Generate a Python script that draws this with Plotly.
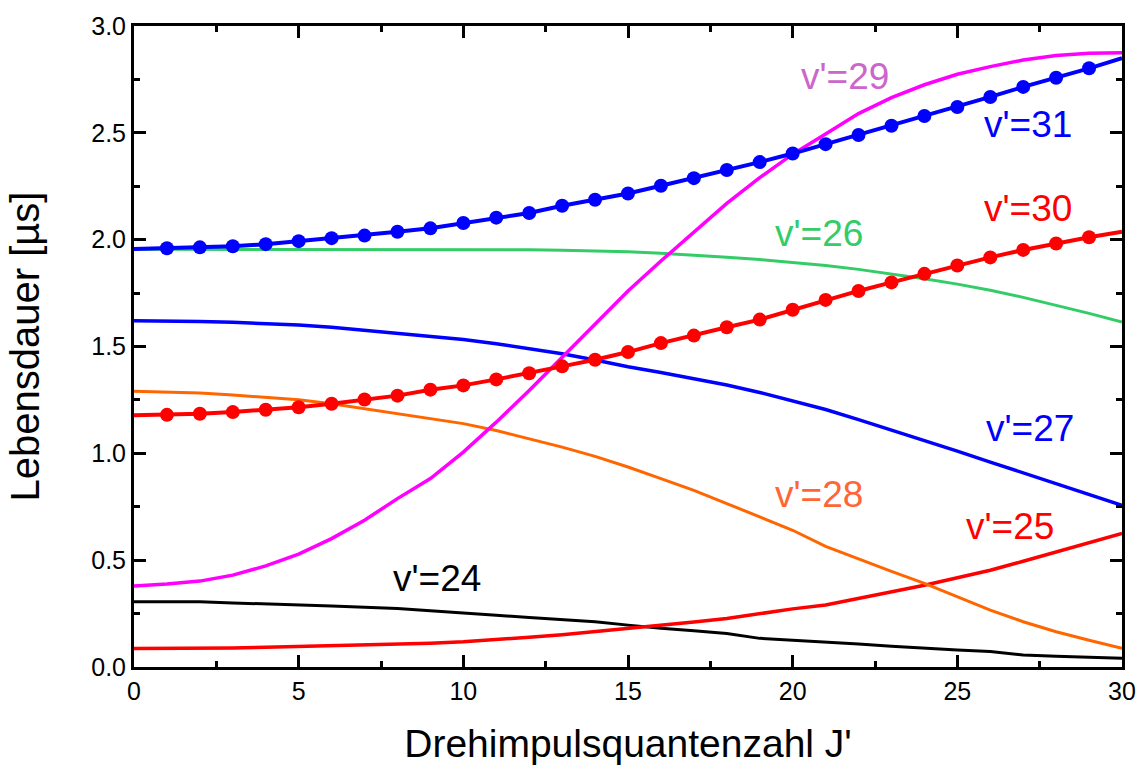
import plotly.graph_objects as go

J = list(range(31))

v31 = [1.956, 1.960, 1.964, 1.969, 1.979, 1.993, 2.007, 2.019, 2.037, 2.053, 2.078, 2.103, 2.125, 2.159, 2.187, 2.216,
       2.252, 2.288, 2.326, 2.363, 2.403, 2.447, 2.490, 2.533, 2.579, 2.621, 2.668, 2.715, 2.758, 2.802, 2.849]
v30 = [1.178, 1.180, 1.185, 1.193, 1.204, 1.216, 1.232, 1.252, 1.270, 1.298, 1.318, 1.346, 1.375, 1.407, 1.438, 1.474,
       1.516, 1.551, 1.590, 1.626, 1.672, 1.718, 1.760, 1.800, 1.840, 1.879, 1.917, 1.952, 1.982, 2.011, 2.037]
v29 = [0.379, 0.388, 0.402, 0.430, 0.473, 0.528, 0.601, 0.687, 0.788, 0.882, 1.006, 1.146, 1.294, 1.450, 1.606, 1.760,
       1.900, 2.035, 2.170, 2.290, 2.400, 2.495, 2.590, 2.665, 2.725, 2.774, 2.810, 2.841, 2.862, 2.872, 2.875]
v26 = [1.955, 1.955, 1.955, 1.956, 1.956, 1.956, 1.956, 1.956, 1.956, 1.956, 1.955, 1.954, 1.953, 1.951, 1.948, 1.943,
       1.936, 1.928, 1.918, 1.907, 1.894, 1.879, 1.861, 1.840, 1.817, 1.792, 1.763, 1.730, 1.694, 1.655, 1.614]
v27 = [1.621, 1.620, 1.617, 1.613, 1.609, 1.601, 1.590, 1.576, 1.562, 1.548, 1.533, 1.513, 1.490, 1.466, 1.437, 1.405,
       1.378, 1.350, 1.320, 1.285, 1.245, 1.205, 1.158, 1.110, 1.061, 1.010, 0.959, 0.909, 0.858, 0.807, 0.757]
v28 = [1.291, 1.287, 1.282, 1.273, 1.263, 1.251, 1.232, 1.209, 1.184, 1.162, 1.139, 1.107, 1.069, 1.029, 0.986, 0.936,
       0.882, 0.827, 0.765, 0.702, 0.640, 0.565, 0.505, 0.448, 0.391, 0.330, 0.266, 0.212, 0.165, 0.125, 0.087]
v25 = [0.087, 0.087, 0.087, 0.089, 0.092, 0.095, 0.098, 0.102, 0.105, 0.111, 0.118, 0.127, 0.139, 0.151, 0.165, 0.180,
       0.196, 0.211, 0.227, 0.250, 0.272, 0.290, 0.320, 0.350, 0.383, 0.418, 0.453, 0.495, 0.539, 0.580, 0.625]
v24 = [0.305, 0.305, 0.305, 0.300, 0.294, 0.290, 0.285, 0.280, 0.274, 0.263, 0.251, 0.242, 0.232, 0.222, 0.212, 0.196,
       0.181, 0.170, 0.157, 0.134, 0.126, 0.118, 0.108, 0.097, 0.087, 0.080, 0.072, 0.056, 0.050, 0.045, 0.041]

labels = ["v'=24", "v'=25", "v'=26", "v'=27", "v'=28", "v'=29", "v'=30", "v'=31"]
label_x = [9.2, 26.6, 20.8, 27.2, 20.8, 21.6, 27.15, 27.15]
label_y = [0.416, 0.659, 2.028, 1.117, 0.808, 2.766, 2.145, 2.537]

FONT = "Arial, 'Liberation Sans', sans-serif"

fig = go.Figure()

plain = [
    (v24, "#000000", 3),
    (v25, "#FF0000", 3.5),
    (v26, "#33CC66", 3),
    (v27, "#0000FF", 3.5),
    (v28, "#FF6600", 3),
    (v29, "#FF00FF", 3.5),
]
for ys, col, w in plain:
    fig.add_trace(go.Scatter(x=J, y=ys, mode="lines", line=dict(color=col, width=w),
                             showlegend=False, hoverinfo="skip"))

for ys, col in [(v30, "#FF0000"), (v31, "#0000FF")]:
    fig.add_trace(go.Scatter(x=J, y=ys, mode="lines", line=dict(color=col, width=4),
                             showlegend=False, hoverinfo="skip"))
    fig.add_trace(go.Scatter(x=J[1:30], y=ys[1:30], mode="markers",
                             marker=dict(color=col, size=14, line=dict(width=0)),
                             showlegend=False, hoverinfo="skip"))

label_colors = ["#000000", "#FF0000", "#33CC66", "#0000FF", "#FF6633", "#CC66CC", "#FF0000", "#0000FF"]
for t, x, y, c in zip(labels, label_x, label_y, label_colors):
    fig.add_annotation(x=x, y=y, xref="x", yref="y", text=t, showarrow=False,
                       font=dict(family=FONT, size=37, color=c), xanchor="center", yanchor="middle")

axis_common = dict(
    showline=True, linecolor="black", linewidth=3, mirror="ticks",
    ticks="inside", ticklen=12, tickwidth=2.5, tickcolor="black",
    showgrid=False, zeroline=False,
    tickfont=dict(family=FONT, size=25, color="black"),
)

fig.update_xaxes(range=[0, 30], tick0=0, dtick=5,
                 minor=dict(ticks="inside", dtick=2.5, tick0=0, ticklen=6, tickwidth=2.5, tickcolor="black"),
                 title=dict(text="Drehimpulsquantenzahl J'", font=dict(family=FONT, size=39, color="black"),
                            standoff=26),
                 **axis_common)
fig.update_yaxes(range=[0, 3.0], tick0=0, dtick=0.5, tickformat=".1f",
                 minor=dict(ticks="inside", dtick=0.25, tick0=0, ticklen=6, tickwidth=2.5, tickcolor="black"),
                 title=dict(text="Lebensdauer [µs]", font=dict(family=FONT, size=40, color="black"),
                            standoff=40),
                 **axis_common)

fig.update_layout(
    width=1148, height=774,
    margin=dict(l=134, r=18, t=24, b=107),
    paper_bgcolor="white", plot_bgcolor="white",
)

fig.write_html("out.html")
